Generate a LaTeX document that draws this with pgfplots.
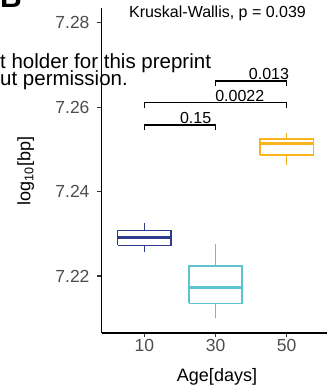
\documentclass[border=0pt]{standalone}
\usepackage{fontspec}
\setmainfont{Liberation Sans}
\usepackage{pgfplots}
\pgfplotsset{compat=1.18}

\definecolor{d10}{RGB}{46,58,140}
\definecolor{d30}{RGB}{91,196,207}
\definecolor{d50}{RGB}{248,180,28}
\definecolor{ticktext}{RGB}{77,77,77}
\definecolor{tickline}{RGB}{51,51,51}

\newcommand{\fs}[1]{\fontsize{#1}{#1}\selectfont}

\begin{document}
\begin{tikzpicture}
% page frame
\path (0pt,0pt) rectangle (327pt,392pt);

% panel letter (mostly above the page) and overlay note
\node[overlay, anchor=base west, inner sep=0, font=\fs{30}\bfseries] at (0pt,384pt) {B};
\node[anchor=base west, inner sep=0, font=\fs{20.5}] at (0pt,323.7pt) {t holder for this preprint};
\node[anchor=base west, inner sep=0, font=\fs{20.5}] at (0pt,306pt) {ut permission.};

\begin{axis}[
  at={(101.7pt,59.3pt)}, anchor=south west,
  scale only axis, width=225.3pt, height=324.7pt,
  xmin=0.4, xmax=3.566, ymin=7.20657, ymax=7.28348,
  axis x line*=bottom, axis y line*=left,
  axis line style={line width=1.6pt, -, black},
  xtick={1,2,3}, xticklabels={10,30,50},
  ytick={7.22,7.24,7.26,7.28},
  yticklabels={7.22,7.24,7.26,7.28},
  tick align=outside, major tick length=4.7pt,
  tick style={line width=1.1pt, color=tickline},
  tick label style={font=\fs{17.5}, text=ticktext},
  yticklabel style={xshift=-4pt},
  xticklabel style={yshift=2pt},
  clip=false,
  box/.style={fill=white, line width=1.5pt, line join=miter},
  whisk/.style={line width=1.5pt},
  med/.style={line width=3pt},
]
% 10 days: whiskers, box (Q1..Q3), median
\addplot[whisk, draw=d10] coordinates {(1,7.22576) (1,7.23248)};
\addplot[box, draw=d10] coordinates {(0.625,7.22727) (1.375,7.22727) (1.375,7.23073) (0.625,7.23073) (0.625,7.22727)};
\addplot[med, draw=d10] coordinates {(0.625,7.22907) (1.375,7.22907)};
% 30 days
\addplot[whisk, draw=d30] coordinates {(2,7.20998) (2,7.22758)};
\addplot[box, draw=d30] coordinates {(1.625,7.21353) (2.375,7.21353) (2.375,7.22237) (1.625,7.22237) (1.625,7.21353)};
\addplot[med, draw=d30] coordinates {(1.625,7.21723) (2.375,7.21723)};
% 50 days
\addplot[whisk, draw=d50] coordinates {(3,7.24629) (3,7.25380)};
\addplot[box, draw=d50] coordinates {(2.625,7.24866) (3.375,7.24866) (3.375,7.25245) (2.625,7.25245) (2.625,7.24866)};
\addplot[med, draw=d50] coordinates {(2.625,7.25143) (3.375,7.25143)};

% pairwise comparison brackets
\addplot[black, line width=1.4pt] coordinates {(1,7.25456) (1,7.25576) (2,7.25576) (2,7.25456)};
\addplot[black, line width=1.4pt] coordinates {(1,7.25989) (1,7.26109) (3,7.26109) (3,7.25989)};
\addplot[black, line width=1.4pt] coordinates {(2,7.26499) (2,7.26619) (3,7.26619) (3,7.26499)};
\node[anchor=base, inner sep=0, font=\fs{16}] at (axis cs:1.72,7.25612) {0.15};
\node[anchor=base, inner sep=0, font=\fs{16}] at (axis cs:2.34,7.26145) {0.0022};
\node[anchor=base, inner sep=0, font=\fs{16}] at (axis cs:2.75,7.26655) {0.013};
\end{axis}

\node[anchor=base, inner sep=0, font=\fs{16}] at (217.5pt,374.5pt) {Kruskal-Wallis, p = 0.039};
\node[anchor=base, inner sep=0, font=\fs{18}] at (217pt,11pt) {Age[days]};
\node[anchor=base, inner sep=0, rotate=90, font=\fs{18}] at (30.5pt,221pt) {log\textsubscript{10}[bp]};
\end{tikzpicture}
\end{document}
